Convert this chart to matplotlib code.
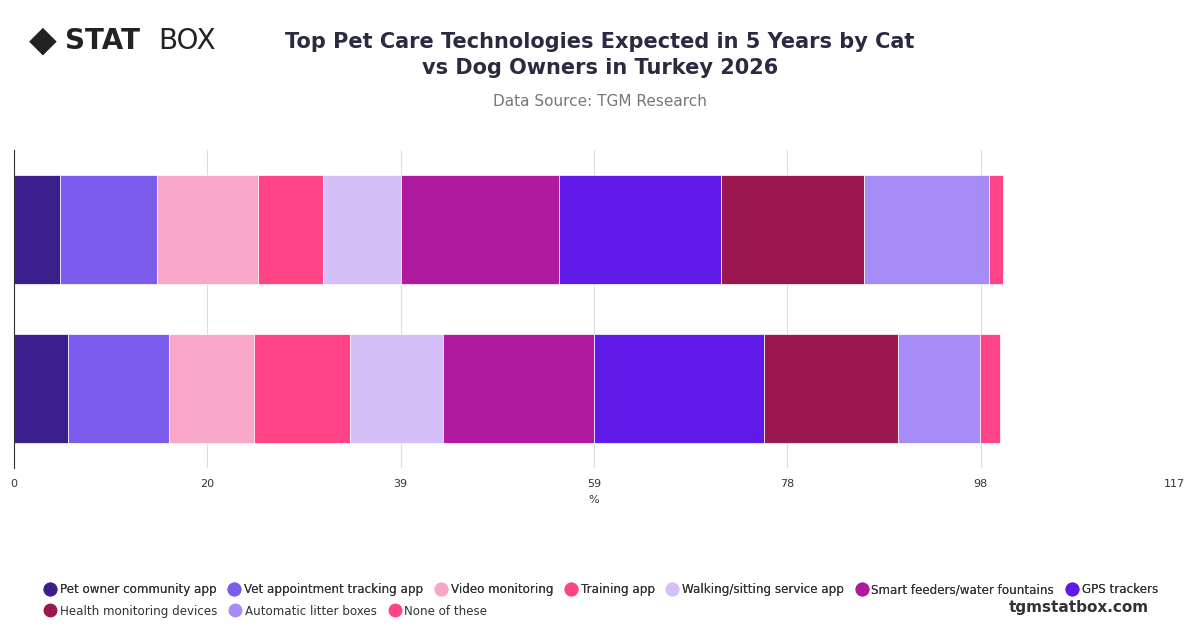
import matplotlib
matplotlib.use("Agg")
import matplotlib.pyplot as plt
from matplotlib.lines import Line2D
import numpy as np

groups = ["Cat owners", "Dog owners"]
categories = ["Pet owner community app", "Vet appointment tracking app", "Video monitoring",
              "Training app", "Walking/sitting service app", "Smart feeders/water fountains",
              "GPS trackers", "Health monitoring devices", "Automatic litter boxes", "None of these"]
cat_values = [4.6, 9.8, 10.2, 6.6, 7.8, 16.0, 16.3, 14.4, 12.6, 1.5]
dog_values = [5.4, 10.2, 8.6, 9.7, 9.4, 15.2, 17.1, 13.6, 8.2, 2.0]
colors = ["#3b1f8c", "#7b5ced", "#f9a7c8", "#ff4384", "#d4bff9", "#b01aa0",
          "#5f1ae8", "#9b174f", "#a78cf8", "#ff4388"]
xticks = [0, 19.5, 39, 58.5, 78, 97.5, 117]
xticklabels = ["0", "20", "39", "59", "78", "98", "117"]

fig = plt.figure(figsize=(12, 6.28), dpi=100)
ax = fig.add_axes([14/1200, 1-468/628, 1160/1200, 318/628])
data = np.array([cat_values, dog_values])
y = [1, 0]
left = np.zeros(2)
for i, c in enumerate(categories):
    ax.barh(y, data[:, i], left=left, color=colors[i], height=0.69,
            edgecolor="white", linewidth=0.5)
    left += data[:, i]
ax.set_xlim(0, 117)
ax.set_ylim(-0.5, 1.5)
ax.set_xticks(xticks)
ax.set_xticklabels(xticklabels, fontsize=8, color="#333")
ax.set_yticks([])
ax.grid(axis="x", color="#dddddd", linewidth=0.8)
ax.set_axisbelow(True)
for s in ["top", "right", "bottom"]:
    ax.spines[s].set_visible(False)
ax.spines["left"].set_color("#333")
ax.tick_params(axis="x", length=0, pad=8)
ax.set_xlabel("%", fontsize=8, color="#333", labelpad=4)

fig.text(0.5, 0.912, "Top Pet Care Technologies Expected in 5 Years by Cat\nvs Dog Owners in Turkey 2026",
         ha="center", va="center", fontsize=15, fontweight="bold", color="#2a2a40", linespacing=1.35)
fig.text(0.5, 0.838, "Data Source: TGM Research", ha="center", va="center", fontsize=11, color="#777")
fig.text(0.054, 0.935, "STAT", ha="left", va="center", fontsize=20, fontweight="bold", color="#222")
fig.text(0.132, 0.935, "BOX", ha="left", va="center", fontsize=20, color="#222")
fig.text(0.036, 0.935, "◆", ha="center", va="center", fontsize=26, color="#222")
fig.text(0.957, 0.033, "tgmstatbox.com", ha="right", va="center", fontsize=11, fontweight="bold", color="#333")

handles = [Line2D([], [], marker="o", linestyle="", markersize=9, color=c) for c in colors]
kw = dict(frameon=False, fontsize=8.6, handletextpad=0.2, columnspacing=0.9,
          labelcolor="#333", borderaxespad=0, handlelength=1.2)
leg1 = fig.legend(handles[:7], categories[:7], loc="center left", bbox_to_anchor=(0.032, 0.061), ncol=7, **kw)
fig.add_artist(leg1)
fig.legend(handles[7:], categories[7:], loc="center left", bbox_to_anchor=(0.032, 0.027), ncol=3, **kw)
fig.savefig("out.png", dpi=100)
